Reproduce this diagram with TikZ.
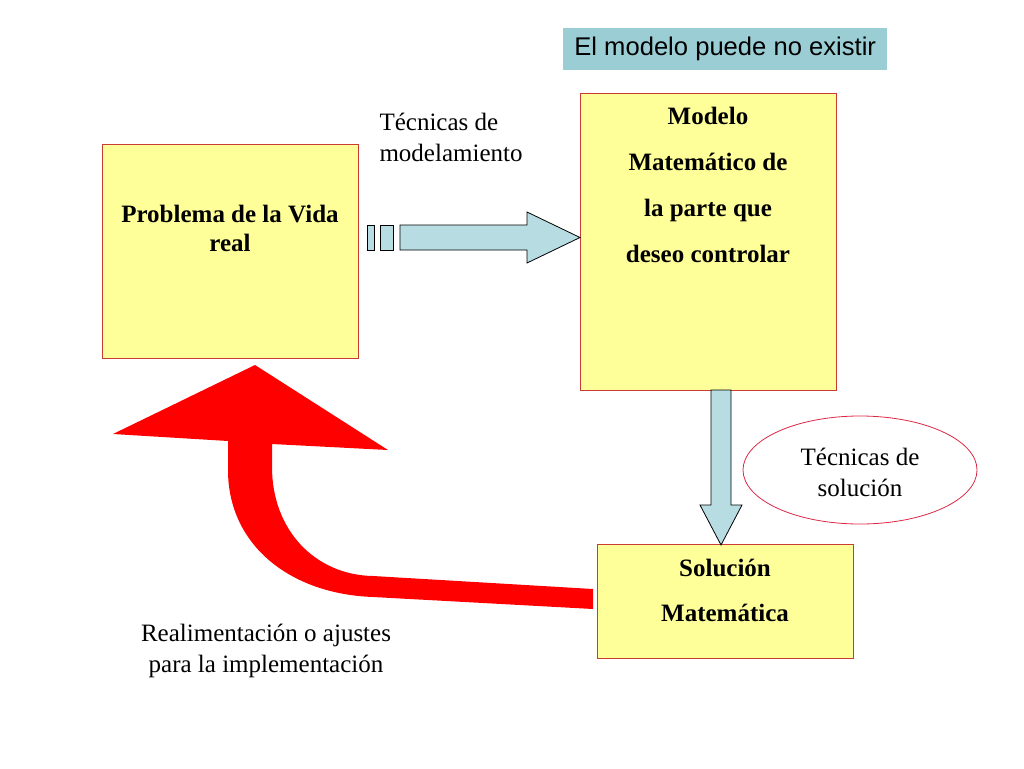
\documentclass[tikz,border=0pt]{standalone}
\usepackage{fontspec}
\usetikzlibrary{shapes.geometric}
\setmainfont{Liberation Serif}
\newfontfamily\labelsans{Liberation Sans}
\definecolor{boxfill}{RGB}{255,255,153}
\definecolor{boxline}{RGB}{200,60,50}
\definecolor{arrowfill}{RGB}{183,221,227}
\definecolor{labelfill}{RGB}{155,206,212}
\definecolor{ellline}{RGB}{220,40,70}
\begin{document}
\begin{tikzpicture}[x=1pt,y=-1pt,
  ybox/.style={draw=boxline,fill=boxfill,line width=0.8pt,anchor=north west,inner sep=0pt},
  btext/.style={font=\fontsize{25}{46}\selectfont\bfseries,align=center},
  ntext/.style={font=\fontsize{25}{31}\selectfont},
  bluearrow/.style={draw=black,fill=arrowfill,line width=0.8pt,line join=miter}]
\useasboundingbox (0,0) rectangle (1024,768);
\fill[white] (0,0) rectangle (1024,768);
% boxes
\node[ybox,minimum width=256pt,minimum height=214pt] (prob) at (102,144) {};
\node[ybox,minimum width=256pt,minimum height=297pt] (modelo) at (580,93) {};
\node[ybox,minimum width=256pt,minimum height=114pt] (sol) at (597,544) {};
% top label
\node[fill=labelfill,anchor=north west,minimum width=324pt,minimum height=42pt,inner sep=0pt,font=\labelsans\fontsize{25.6}{30}\selectfont] (lbl) at (563,28) {El modelo puede no existir};
% box texts
\node[btext,font=\fontsize{25}{29}\selectfont\bfseries] (probtxt) at (230,228) {Problema de la Vida\\real};
\node[btext] (modtxt) at (708,185) {Modelo\\Matemático de\\la parte que\\deseo controlar};
\node[btext,font=\fontsize{25}{45}\selectfont\bfseries] (soltxt) at (725,590) {Solución\\Matemática};
% striped arrow
\draw[bluearrow] (367,225) rectangle (374,250);
\draw[bluearrow] (380,225) rectangle (393,250);
\draw[bluearrow] (400,225) -- (527,225) -- (527,212) -- (580,237.5) -- (527,263) -- (527,250) -- (400,250) -- cycle;
\coordinate (stripedtip) at (580,237.5);
\node[ntext,align=left,anchor=north west] (tecmod) at (376,110) {Técnicas de\\modelamiento};
% down arrow
\draw[bluearrow] (711,390) -- (731,390) -- (731,505) -- (742,505) -- (721,545) -- (700,505) -- (711,505) -- cycle;
% ellipse
\node[draw=ellline,line width=0.8pt,ellipse,minimum width=234pt,minimum height=108pt] (ell) at (860,470) {};
\node[ntext,align=center] (elltxt) at (860,472) {Técnicas de\\solución};
% red arrow
\fill[red] (593,609) -- (373,597) .. controls (290,594) and (228,545) .. (228,470) -- (228,441) -- (113,434) -- (255,365) -- (388,450) -- (272,444) -- (272,467) .. controls (272,530) and (315,575) .. (373,576) -- (593,589) -- cycle;
\node[ntext,align=center] (realim) at (266,651) {Realimentación o ajustes\\para la implementación};
\end{tikzpicture}
\end{document}
